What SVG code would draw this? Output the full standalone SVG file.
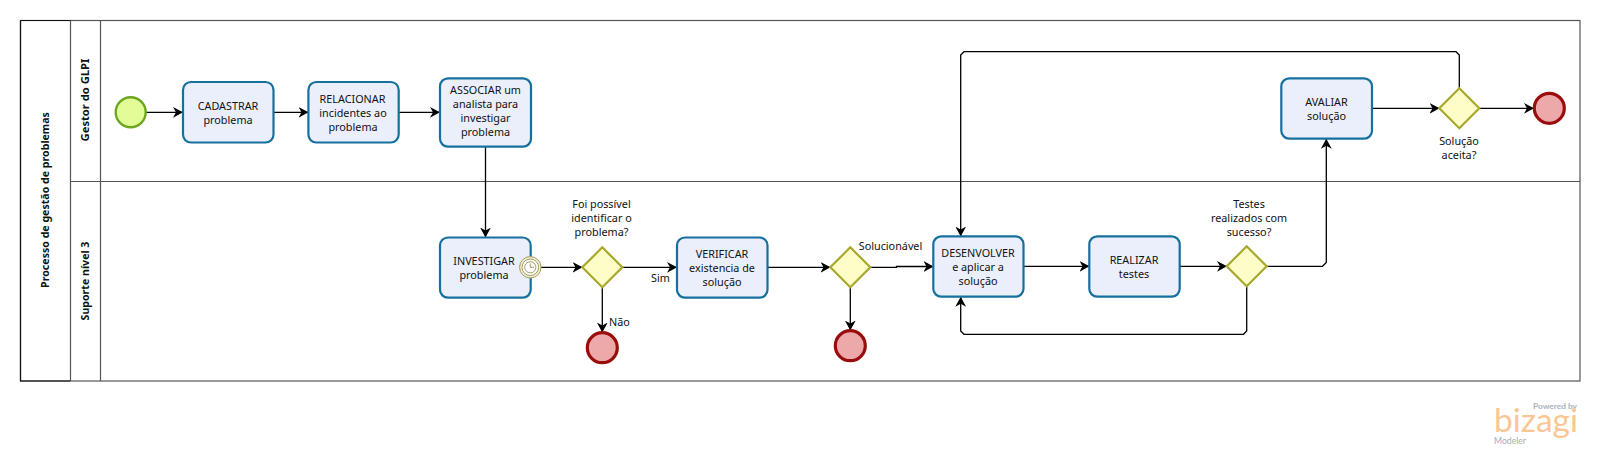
<svg xmlns="http://www.w3.org/2000/svg" width="1600" height="474" viewBox="0 0 1600 474">
<style>
text{font-family:"Noto Sans","Open Sans","DejaVu Sans",sans-serif;font-size:10.8px;fill:#111;text-anchor:middle}
.hdr{font-weight:700;font-size:10.6px}
.task{fill:#ebeffc;stroke:#16709e;stroke-width:2.2}
.gw{fill:#fdfdc8;stroke:#a8a82e;stroke-width:2.2}
.end{fill:#eda8aa;stroke:#990d0d;stroke-width:3.2}
.start{fill:#e2fd98;stroke:#6da61f;stroke-width:2.4}
.ln{fill:none;stroke:#555;stroke-width:1.2}
.flow{fill:none;stroke:#000;stroke-width:1.3;marker-end:url(#a)}
.logo{font-family:"Lato","Open Sans",sans-serif;text-anchor:start}
</style>
<defs>
<marker id="a" markerUnits="userSpaceOnUse" markerWidth="12" markerHeight="12" refX="10" refY="6" orient="auto">
<path d="M0,0.6 L10,6 L0,11.4 L3,6 Z" fill="#000"/>
</marker>
</defs>
<rect width="1600" height="474" fill="#fff"/>
<g id="pool">
<rect x="20.5" y="20.5" width="1559.5" height="360.5" fill="#fff" stroke="#555" stroke-width="1.2"/>
<path d="M20.5,20.5 H70.5 M20.5,20.5 V381 H70.5" fill="none" stroke="#111" stroke-width="1.2"/>
<path class="ln" d="M70.5,20.5 V381 M100.5,20.5 V381 M70.5,181.5 H1580"/>
<text class="hdr" transform="translate(49,200) rotate(-90)">Processo de gestão de problemas</text>
</g>
<g id="lane-gestor"><text class="hdr" style="font-size:11.2px" transform="translate(89,100) rotate(-90)">Gestor do GLPI</text></g>
<g id="lane-suporte"><text class="hdr" transform="translate(89,281) rotate(-90)">Suporte nível 3</text></g>

<g id="connectors">
<path class="flow" d="M146,112.3 H183"/>
<path class="flow" d="M273.5,112.3 H308.5"/>
<path class="flow" d="M398.5,112.3 H440"/>
<path class="flow" d="M485.5,146.5 V237.5"/>
<path class="flow" d="M541,267.3 H582.5"/>
<path class="flow" d="M622,267.3 H677"/>
<path class="flow" d="M602.3,287 V332.5"/>
<path class="flow" d="M767,267.3 H830.5"/>
<path class="flow" d="M870,267.3 H896.5 V266.5 H933.5"/>
<path class="flow" d="M850.3,287 V330.5"/>
<path class="flow" d="M1023.5,266.3 H1089.5"/>
<path class="flow" d="M1179.5,266.3 H1227"/>
<path class="flow" d="M1266.5,266.3 H1322.5 L1326.3,262.5 V138.7"/>
<path class="flow" d="M1246.7,286 V331 L1243.5,334.3 H964 L960.7,331 V296.7"/>
<path class="flow" d="M1459.3,88.5 V55 L1456,51.7 H964 L960.7,55 V236.5"/>
<path class="flow" d="M1372,108.3 H1439.5"/>
<path class="flow" d="M1479,108.3 H1534"/>
</g>

<g id="start"><circle class="start" cx="130.7" cy="112.3" r="15"/></g>

<g id="cadastrar"><rect class="task" x="183" y="82" width="90.5" height="60.5" rx="8"/><text x="228" y="110">CADASTRAR</text><text x="228" y="124">problema</text></g>
<g id="relacionar"><rect class="task" x="308.4" y="82" width="90.3" height="60.5" rx="8"/><text x="352.5" y="102.5">RELACIONAR</text><text x="353" y="116.5">incidentes ao</text><text x="353" y="130.5">problema</text></g>
<g id="associar"><rect class="task" x="440" y="78.3" width="91" height="68.4" rx="8"/><text x="485.5" y="94">ASSOCIAR um</text><text x="485.5" y="108">analista para</text><text x="485.5" y="122">investigar</text><text x="485.5" y="136">problema</text></g>
<g id="investigar"><rect class="task" x="440" y="237.5" width="90.7" height="60.2" rx="8"/>
<text x="484" y="264.5">INVESTIGAR</text><text x="484" y="278.5">problema</text>
<g fill="#fff" stroke="#a09a5c"><circle cx="530.3" cy="267.3" r="10.7" fill="#f3f0dc" stroke-width="1"/><circle cx="530.3" cy="267.3" r="8.3" stroke-width="1"/><circle cx="530.3" cy="267.3" r="5.6" stroke-width="1"/><path d="M530.3,263.5 V267.3 H534" fill="none" stroke-width="1"/></g></g>
<g id="gw-identificar"><path class="gw" d="M602.3,247.3 L622.3,267.3 L602.3,287.3 L582.3,267.3 Z"/><text x="601.5" y="208">Foi possível</text><text x="601.5" y="222">identificar o</text><text x="601.5" y="236">problema?</text></g>
<g id="end-nao"><circle class="end" cx="602.3" cy="347.7" r="15"/></g>
<text x="660.5" y="282">Sim</text>
<text x="619.5" y="325.5">Não</text>
<g id="verificar"><rect class="task" x="677" y="237.5" width="90.5" height="60.2" rx="8"/><text x="722" y="257.5">VERIFICAR</text><text x="722" y="271.5">existencia de</text><text x="722" y="285.5">solução</text></g>
<g id="gw-solucionavel"><path class="gw" d="M850.3,247.3 L870.3,267.3 L850.3,287.3 L830.3,267.3 Z"/><text x="890.5" y="250">Solucionável</text></g>
<g id="end-solucionavel"><circle class="end" cx="850.3" cy="345.7" r="15"/></g>
<g id="desenvolver"><rect class="task" x="933.3" y="236.3" width="90.2" height="60.4" rx="8"/><text x="978" y="256.5">DESENVOLVER</text><text x="978" y="270.5">e aplicar a</text><text x="978" y="284.5">solução</text></g>
<g id="realizar"><rect class="task" x="1089.3" y="236.3" width="90.4" height="60.4" rx="8"/><text x="1134" y="263.5">REALIZAR</text><text x="1134" y="277.5">testes</text></g>
<g id="gw-testes"><path class="gw" d="M1246.7,246.3 L1266.7,266.3 L1246.7,286.3 L1226.7,266.3 Z"/><text x="1249" y="208">Testes</text><text x="1249" y="222">realizados com</text><text x="1249" y="236">sucesso?</text></g>
<g id="avaliar"><rect class="task" x="1281.3" y="78.3" width="90.7" height="60.4" rx="8"/><text x="1326.5" y="105.5">AVALIAR</text><text x="1326.5" y="119.5">solução</text></g>
<g id="gw-aceita"><path class="gw" d="M1459.3,88.3 L1479.3,108.3 L1459.3,128.3 L1439.3,108.3 Z"/><text x="1459" y="144.5">Solução</text><text x="1459" y="158.5">aceita?</text></g>
<g id="end-aceita"><circle class="end" cx="1549.3" cy="108.3" r="15"/></g>
<g id="watermark">
<text class="logo" x="1533" y="409" textLength="44" lengthAdjust="spacingAndGlyphs" style="font-size:8px;font-weight:700;fill:#a9b2ba">Powered by</text>
<text class="logo" x="1494" y="432" textLength="84" lengthAdjust="spacingAndGlyphs" style="font-size:33px;font-weight:400;fill:#fac793">bizagi</text>
<text class="logo" x="1494" y="443.5" textLength="32" lengthAdjust="spacingAndGlyphs" style="font-size:9px;fill:#a3acb4">Modeler</text>
</g>
</svg>
